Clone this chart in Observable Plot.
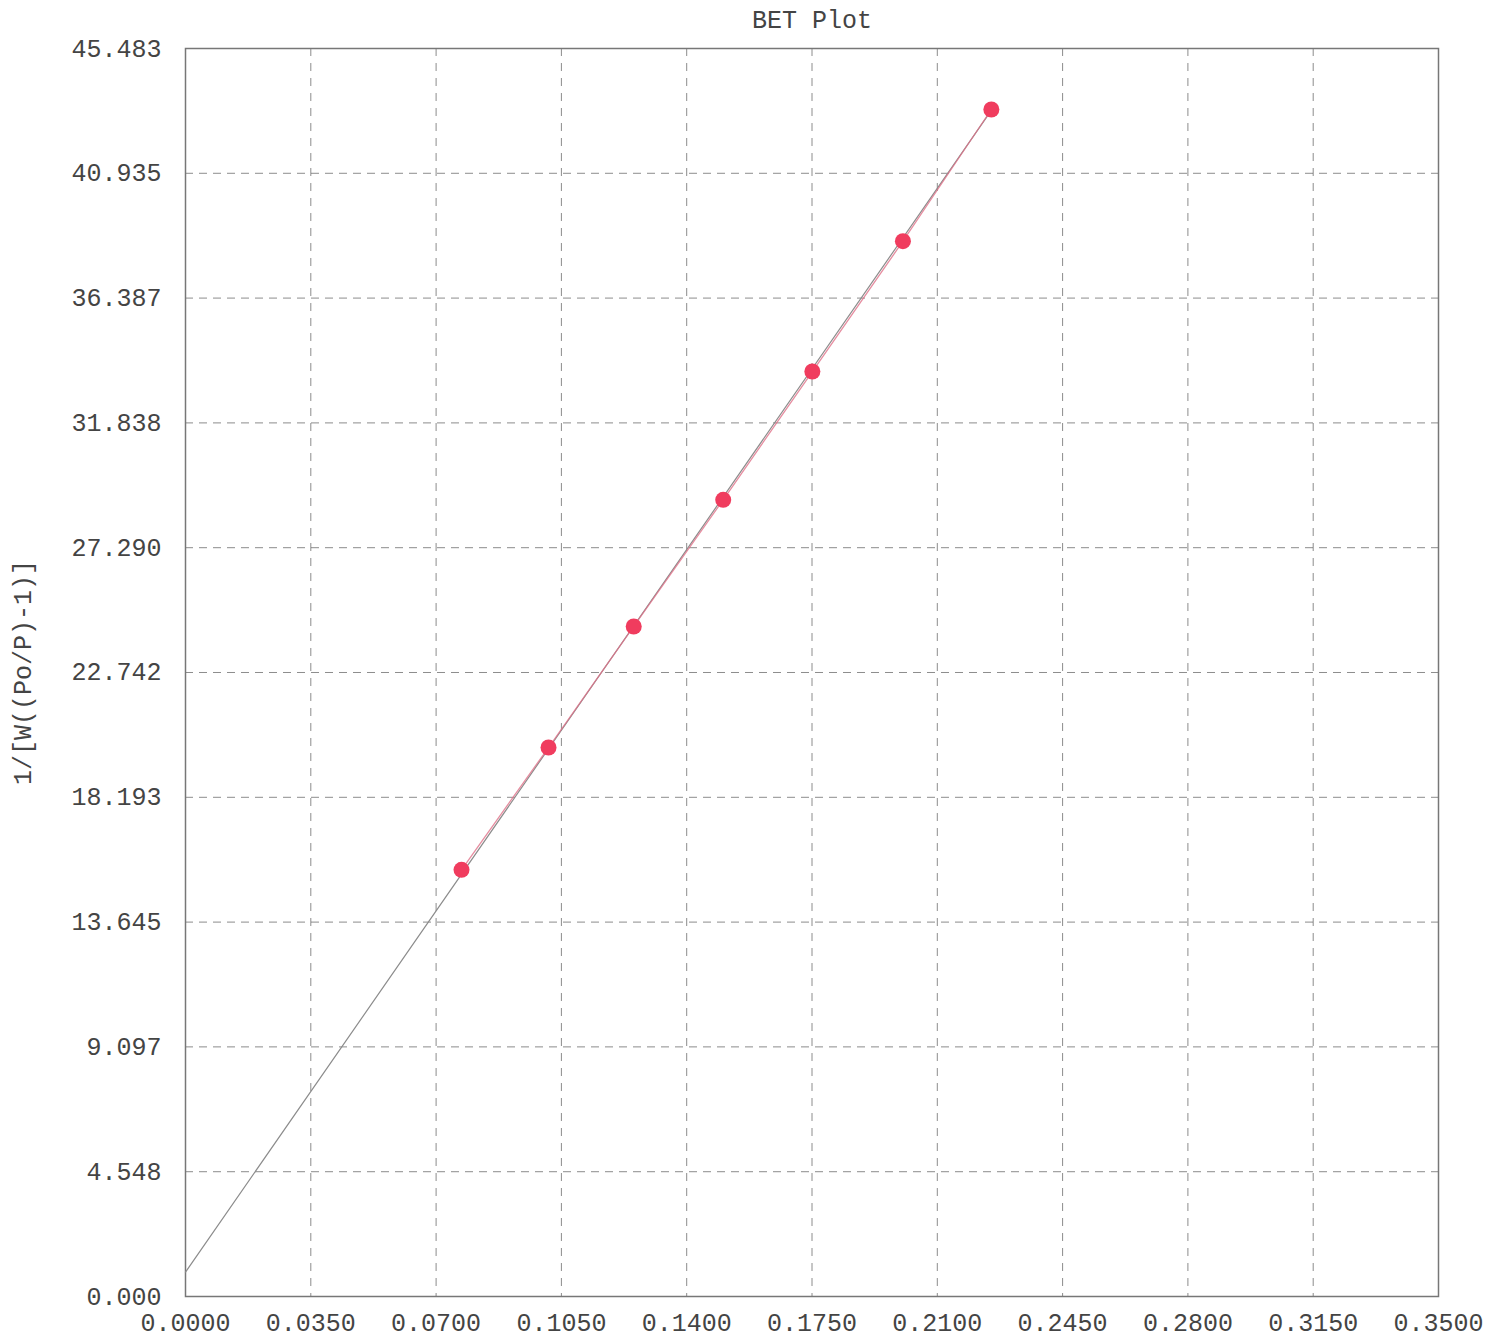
<!DOCTYPE html>
<html>
<head>
<meta charset="utf-8">
<script src="https://cdn.jsdelivr.net/npm/d3@7"></script>
<script src="https://cdn.jsdelivr.net/npm/@observablehq/plot@0.6"></script>
<style>
  html, body { margin: 0; padding: 0; background: #fff; }
</style>
</head>
<body>
<div id="chart"></div>
<script>
// Data
const relPressure = [0.0771, 0.1014, 0.1252, 0.1502, 0.1751, 0.2004, 0.2251];
const betValue    = [15.551, 20.008, 24.418, 29.036, 33.711, 38.460, 43.260];
const fitX = [0.0, 0.2251];
const fitY = [0.886, 43.23];
const xTickLabels = ["0.0000","0.0350","0.0700","0.1050","0.1400","0.1750","0.2100","0.2450","0.2800","0.3150","0.3500"];
const yTickLabels = ["0.000","4.548","9.097","13.645","18.193","22.742","27.290","31.838","36.387","40.935","45.483"];
const titleText = "BET Plot";
const yLabelText = "1/[W((Po/P)-1)]";

const points = relPressure.map((x, i) => ({x, y: betValue[i]}));
const fit = fitX.map((x, i) => ({x, y: fitY[i]}));
const xTicks = xTickLabels.map(Number);
const yTicks = yTickLabels.map(Number);

const chart = Plot.plot({
  width: 1487,
  height: 1340,
  marginLeft: 185,
  marginRight: 49,
  marginTop: 48,
  marginBottom: 44,
  style: {
    fontFamily: "'Liberation Mono', 'DejaVu Sans Mono', monospace",
    fontSize: "25px",
    color: "#444",
    background: "#fff"
  },
  x: {
    domain: [0, 0.35],
    ticks: xTicks,
    tickFormat: (d, i) => xTickLabels[i],
    tickSize: 0,
    tickPadding: 17,
    label: null
  },
  y: {
    domain: [0, 45.483],
    ticks: yTicks,
    tickFormat: (d, i) => yTickLabels[i],
    tickSize: 0,
    tickPadding: 24,
    label: null
  },
  marks: [
    Plot.ruleX(xTicks.slice(1, -1), {stroke: "#666", strokeOpacity: 0.75, strokeWidth: 1, strokeDasharray: "8,7"}),
    Plot.ruleY(yTicks.slice(1, -1), {stroke: "#666", strokeOpacity: 0.75, strokeWidth: 1, strokeDasharray: "8,6"}),
    Plot.frame({stroke: "#777", strokeWidth: 1.5}),
    Plot.line(fit, {x: "x", y: "y", stroke: "#8c8c8c", strokeWidth: 1.2}),
    Plot.line(points, {x: "x", y: "y", stroke: "#e07088", strokeWidth: 1.3, strokeOpacity: 0.8}),
    Plot.dot(points, {x: "x", y: "y", r: 8, fill: "#f03c5e", stroke: "none"}),
    Plot.text([titleText], {frameAnchor: "top", dy: -29, lineAnchor: "middle", text: d => d, fill: "#444"}),
    Plot.text([yLabelText], {frameAnchor: "left", dx: -163, rotate: -90, textAnchor: "middle", lineAnchor: "middle", text: d => d, fill: "#444"})
  ]
});
document.getElementById("chart").appendChild(chart);
</script>
</body>
</html>
